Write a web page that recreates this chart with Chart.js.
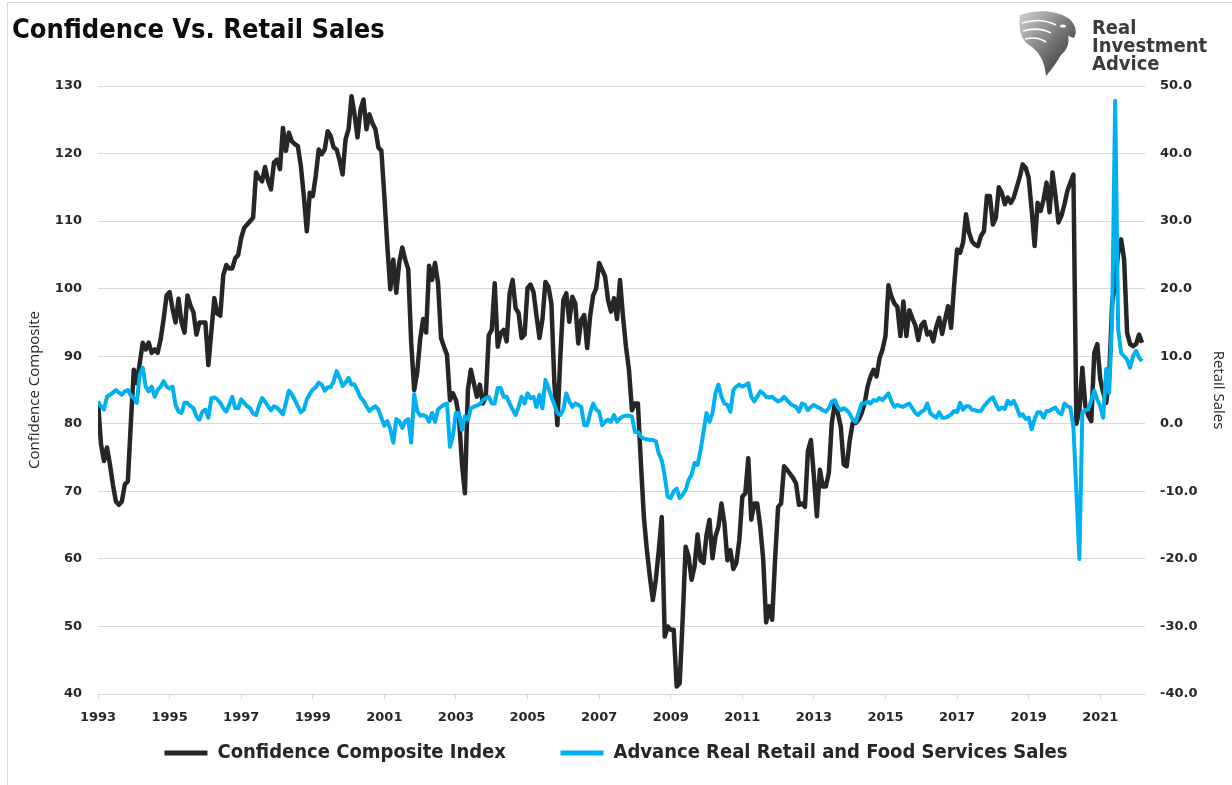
<!DOCTYPE html>
<html>
<head>
<meta charset="utf-8">
<script src="https://cdn.jsdelivr.net/npm/chart.js@4.4.1/dist/chart.umd.min.js"></script>
<style>
  html, body { margin: 0; padding: 0; background: #fff; }
  #wrap { position: relative; width: 1232px; height: 785px; overflow: hidden; }
  #frame { position: absolute; left: 7px; top: 2px; width: 1300px; height: 900px; border: 1px solid #d9d9d9; }
  #title { position: absolute; left: 12px; top: 13px; font: bold 27px "Liberation Sans Narrow", "DejaVu Sans Condensed", sans-serif; color: #0d0d0d; white-space: nowrap; }
  #logo { position: absolute; left: 1016px; top: 9px; width: 64px; height: 68px; }
  #brand { position: absolute; left: 1092px; top: 18px; font: bold 20px/18px "Liberation Sans Narrow", "DejaVu Sans Condensed", sans-serif; color: #3b3b3b; }
  canvas { position: absolute; left: 0; top: 0; }
</style>
</head>
<body>
<div id="wrap">
  <div id="frame"></div>
  <canvas id="chart" width="1232" height="785"></canvas>
  <div id="title">Confidence Vs. Retail Sales</div>
  <svg id="logo" viewBox="0 0 64 68">
    <defs>
      <linearGradient id="g" x1="0" y1="0" x2="1" y2="1">
        <stop offset="0" stop-color="#d4d4d4"/>
        <stop offset="0.5" stop-color="#7a7a7a"/>
        <stop offset="1" stop-color="#262626"/>
      </linearGradient>
    </defs>
    <path d="M4,6 C20,0 40,1 52,9 C59,14 62,22 58,29 L52,27 C54,35 50,42 45,46 C40,54 36,60 30,67 C29,53 23,42 13,36 C6,31 2,22 4,6 Z" fill="url(#g)"/>
    <path d="M6,14 C18,10 30,11 40,16 M7,22 C17,19 27,20 35,24 M9,30 C17,28 24,29 30,33" stroke="#fff" stroke-width="1.6" fill="none"/>
    <ellipse cx="47" cy="17" rx="3" ry="1.6" fill="#fff"/>
  </svg>
  <div id="brand">Real<br>Investment<br>Advice</div>
</div>
<script>
const startYear = 1993;
const tickYears = [1993, 1995, 1997, 1999, 2001, 2003, 2005, 2007, 2009, 2011, 2013, 2015, 2017, 2019, 2021];

// monthly values from Jan 1993, one line per year
const confidence = [
  83.3, 77, 74.5, 76.5, 74, 71, 68.5, 68, 68.5, 71, 71.5, 80,
  88, 86, 89, 92, 91, 92, 90.5, 91, 90.5, 92.5, 95.5, 99,
  99.5, 97, 95, 98.5, 95, 93.5, 99, 97.5, 96.5, 93.2, 95, 95,
  95, 88.7, 93.6, 98.6, 96.3, 96, 102, 103.5, 103, 103, 104.5, 105,
  107.5, 109, 109.5, 110, 110.5, 117.2, 116.4, 115.9, 118, 116, 114.7, 118.7,
  119.1, 117.7, 123.8, 120.4, 123.1, 121.8, 121.4, 121.1, 118.2, 113.7, 108.5, 114.2,
  113.7, 116.7, 120.6, 119.9, 120.6, 123.3, 122.6, 120.9, 120.6, 119, 116.9, 122.1,
  123.6, 128.5, 125.8, 122.4, 126.5, 128, 123.6, 125.8, 124.5, 123.6, 120.9, 120.4,
  113.7, 106.3, 99.9, 104.3, 99.4, 103.9, 106.1, 104.3, 102.9, 92, 85, 87.6,
  92.5, 95.5, 93.5, 103.4, 101.3, 103.8, 100.8, 92.7, 91.4, 90.2, 83.5, 84.5,
  83.5, 81.1, 74.2, 69.7, 85, 88, 86, 84, 85.8, 83, 84, 93.1,
  93.9, 100.8, 91.4, 93.4, 93.9, 92.2, 99.3, 101.3, 97.1, 96.4, 92.7, 93.2,
  100.1, 100.6, 99.5, 96, 92.7, 95.5, 101, 100.3, 97.8, 86, 79.8, 90,
  98.3, 99.3, 95.1, 98.8, 97.8, 91.9, 95.4, 96.1, 91.2, 96, 99, 100,
  103.8, 102.8, 101.8, 98.3, 96.6, 98.6, 95.5, 101.3, 95.9, 91.4, 88, 82,
  83, 83, 74.2, 66.2, 61.3, 57.4, 53.9, 56.9, 61.3, 66.2, 48.5, 50,
  49.5, 49.5, 41.1, 41.6, 51, 61.8, 60.3, 56.9, 58.9, 63.6, 59.8, 59.4,
  63.5, 65.8, 60.1, 63.3, 64.8, 68.2, 65.3, 59.8, 61.3, 58.5, 59.4, 62.8,
  69.2, 69.7, 74.9, 65.8, 68.2, 68.2, 64.8, 60, 50.6, 53, 51, 60,
  67.7, 68.2, 73.7, 73.2, 72.6, 72, 71.2, 68, 68.2, 67.7, 76, 77.6,
  72.2, 66.3, 73.2, 70.7, 70.7, 72.7, 80.1, 83, 81.6, 79.6, 74, 73.7,
  77.5, 80.1, 80.1, 80.6, 81.6, 83, 85.5, 87, 88, 87, 89.7, 91,
  93, 100.5, 98.8, 97.8, 97.3, 93, 98.1, 93, 96.8, 95.6, 94.6, 92.4,
  94.6, 95.1, 93.2, 93.6, 92.2, 94.3, 95.7, 93.3, 95.5, 97.4, 94.2, 100.4,
  105.8, 105.3, 106.8, 111, 108.3, 107, 106.5, 106.3, 107.8, 108.5, 113.7, 113.7,
  109.5, 110.5, 115, 114.2, 112.5, 113.5, 112.7, 113.5, 115, 116.5, 118.4, 117.9,
  116.4, 111.7, 106.3, 112.7, 111.5, 113.2, 115.7, 111.3, 117.2, 113.7, 109.8, 110.8,
  112.5, 114.5, 115.7, 116.9, 80, 82, 88.3, 82.6, 81.2, 80.4, 90.5, 91.8,
  86.6, 84.6, 83.1, 87, 97.9, 101, 105.3, 107.3, 104.3, 93.5, 91.8, 91.5,
  91.8, 93.2, 92
];

const retailSales = [
  3.3, 2.6, 2.1, 4, 4.3, 4.6, 5, 4.6, 4.3, 4.8, 5, 4.2,
  3.8, 3.1, 7.3, 8.3, 5.5, 4.8, 5.5, 4, 5, 5.5, 6.3, 5.5,
  5.2, 5.5, 2.8, 1.8, 1.6, 3.1, 3.1, 2.6, 2.3, 1.1, 0.6, 1.8,
  2.1, 0.9, 3.8, 3.9, 3.6, 3.1, 2.3, 1.8, 2.8, 4, 2.3, 2.3,
  3.6, 3.1, 2.6, 2.3, 1.5, 1.3, 2.7, 3.8, 3.3, 2.6, 2.0, 2.6,
  2.4, 1.9, 1.4, 3.1, 4.9, 4.4, 3.5, 2.6, 1.7, 2.1, 3.6, 4.4,
  5.1, 5.4, 6.1, 5.8, 4.9, 5.4, 5.4, 6.3, 7.8, 6.8, 5.6, 6.1,
  6.8, 5.8, 5.8, 4.9, 3.9, 3.4, 2.6, 1.9, 2.3, 2.6, 2.1, 0.9,
  -0.3, 0.4, -0.8, -2.8, 0.7, 0.4, -0.6, 0.4, 0.7, -2.8, 4.4, 1.9,
  1.2, 1.3, 1.1, 0.3, 1.6, 0.3, 2.1, 2.5, 2.8, 3, -3.4, -1.7,
  1.6, 1.6, -0.9, 1.1, 0.6, 2.3, 2.5, 2.7, 2.9, 3.5, 3.8, 4,
  3, 3, 5.3, 5.3, 4, 4, 3, 2.1, 1.3, 2.5, 4, 3,
  4.5, 3.8, 4, 2.5, 4.3, 2.3, 6.5, 5.3, 4, 2.8, 1.6, 1.3,
  2.1, 4.5, 3.3, 2.5, 3, 2.8, 2.5, -0.2, -0.2, 1.6, 3, 2.1,
  1.8, -0.2, 0.3, 0.6, 0.3, 1.3, 0.3, 0.8, 1.1, 1.2, 1.2, 1.1,
  -1.2, -1.2, -1.9, -2.2, -2.3, -2.4, -2.4, -2.6, -4.4, -5.4, -7.8, -10.8,
  -11, -10, -9.6, -11, -10.5, -9.8, -8.3, -7.5, -5.8, -6.1, -3.9, -1.2,
  1.6, 0.3, 1.6, 4.5, 5.8, 4, 3, 2.8, 1.8, 5, 5.5, 5.8,
  5.5, 5.7, 6, 4, 3.3, 4, 4.8, 4.5, 4, 3.9, 4, 3.6,
  3.3, 3.5, 4, 3.5, 3, 2.7, 2.5, 1.8, 3, 2.8, 2, 2.5,
  2.8, 2.5, 2.3, 2, 1.8, 2.3, 3.3, 3.5, 2.5, 2, 2.3, 2,
  1.5, 0.6, 0.3, 1.6, 3, 3, 3.3, 3, 3.5, 3.4, 3.8, 3.5,
  4, 4.5, 3.3, 2.5, 2.8, 2.6, 2.5, 2.8, 3, 2.3, 1.6, 1.3,
  1.8, 2, 3, 1.6, 1.2, 0.9, 1.7, 0.9, 0.9, 1.1, 1.4, 1.9,
  1.7, 3.1, 2.1, 2.6, 2.6, 2.1, 2.0, 1.9, 1.9, 2.6, 3.1, 3.6,
  3.9, 2.9, 2.1, 2.4, 2.2, 3.4, 2.9, 3.4, 2.4, 1.2, 1.4, 0.7,
  0.9, -0.8, 0.7, 1.7, 1.7, 0.9, 1.9, 1.9, 2.2, 2.4, 1.7, 1.4,
  3.0, 2.6, 2.4, -0.5, -10, -20, 1.7, 2, 2.2, 3.5, 4.9, 3.6,
  2.6, 0.9, 8.1, 4.6, 16, 47.8, 14, 10.5, 10, 9.5, 8.3, 10,
  10.8, 9.8, 9.3
];

const narrow = '"Liberation Sans Narrow", "DejaVu Sans Condensed", sans-serif';
const tickFont = { family: '"DejaVu Sans", sans-serif', size: 13, weight: 'bold' };
const titleFont = { family: '"Open Sans", sans-serif', size: 15 };
const textColor = '#262626';
const gridColor = '#d9d9d9';

const toPoints = arr => arr.map((v, i) => ({ x: i, y: v }));

new Chart(document.getElementById('chart'), {
  type: 'line',
  data: {
    datasets: [
      {
        label: 'Confidence Composite Index',
        data: toPoints(confidence),
        yAxisID: 'y',
        borderColor: '#262626',
        backgroundColor: '#262626',
        borderWidth: 4.5,
        pointRadius: 0,
        tension: 0,
        borderJoinStyle: 'round',
        order: 1
      },
      {
        label: 'Advance Real Retail and Food Services Sales',
        data: toPoints(retailSales),
        yAxisID: 'y1',
        borderColor: '#00b0f0',
        backgroundColor: '#00b0f0',
        borderWidth: 4,
        pointRadius: 0,
        tension: 0,
        borderJoinStyle: 'round',
        order: 0
      }
    ]
  },
  options: {
    responsive: false,
    animation: false,
    layout: { padding: { top: 86, left: 0, right: 0, bottom: 12 } },
    plugins: {
      tooltip: { enabled: false },
      legend: {
        position: 'bottom',
        labels: {
          boxWidth: 43,
          boxHeight: 5,
          padding: 15,
          color: textColor,
          font: { family: narrow, size: 20, weight: 'bold' },
          sort: (a, b) => a.datasetIndex - b.datasetIndex,
          // wider gap after the first entry, as in the original legend
          generateLabels: chart => Chart.defaults.plugins.legend.labels.generateLabels(chart)
            .map(l => Object.assign(l, {
              lineWidth: 0,
              text: l.datasetIndex === 0 ? l.text + '\u2003\u2003\u2009' : l.text
            }))
        }
      }
    },
    scales: {
      x: {
        type: 'linear',
        min: 0,
        max: 351,
        afterBuildTicks: s => { s.ticks = tickYears.map(y => ({ value: (y - startYear) * 12 })); },
        afterFit: s => { s.height = 34; },
        grid: { display: true, drawOnChartArea: false, drawTicks: true, tickLength: 5, color: gridColor },
        border: { display: true, color: gridColor },
        ticks: {
          padding: 11, maxRotation: 0, autoSkip: false, color: textColor, font: tickFont,
          callback: v => String(startYear + v / 12)
        }
      },
      y: {
        position: 'left',
        min: 40,
        max: 130,
        afterFit: s => { s.width = 98; },
        ticks: { stepSize: 10, padding: 16, color: textColor, font: tickFont },
        grid: { color: gridColor, drawTicks: false },
        border: { display: false },
        title: { display: true, text: 'Confidence Composite', color: textColor, font: titleFont, padding: { top: 26, bottom: 0 } }
      },
      y1: {
        position: 'right',
        min: -40,
        max: 50,
        afterFit: s => { s.width = 87; },
        ticks: { stepSize: 10, padding: 15, color: textColor, font: tickFont, callback: v => v.toFixed(1) },
        grid: { drawOnChartArea: false, drawTicks: false },
        border: { display: false },
        title: { display: true, text: 'Retail Sales', color: textColor, font: titleFont, padding: { top: 5, bottom: 0 } }
      }
    }
  }
});
</script>
</body>
</html>
